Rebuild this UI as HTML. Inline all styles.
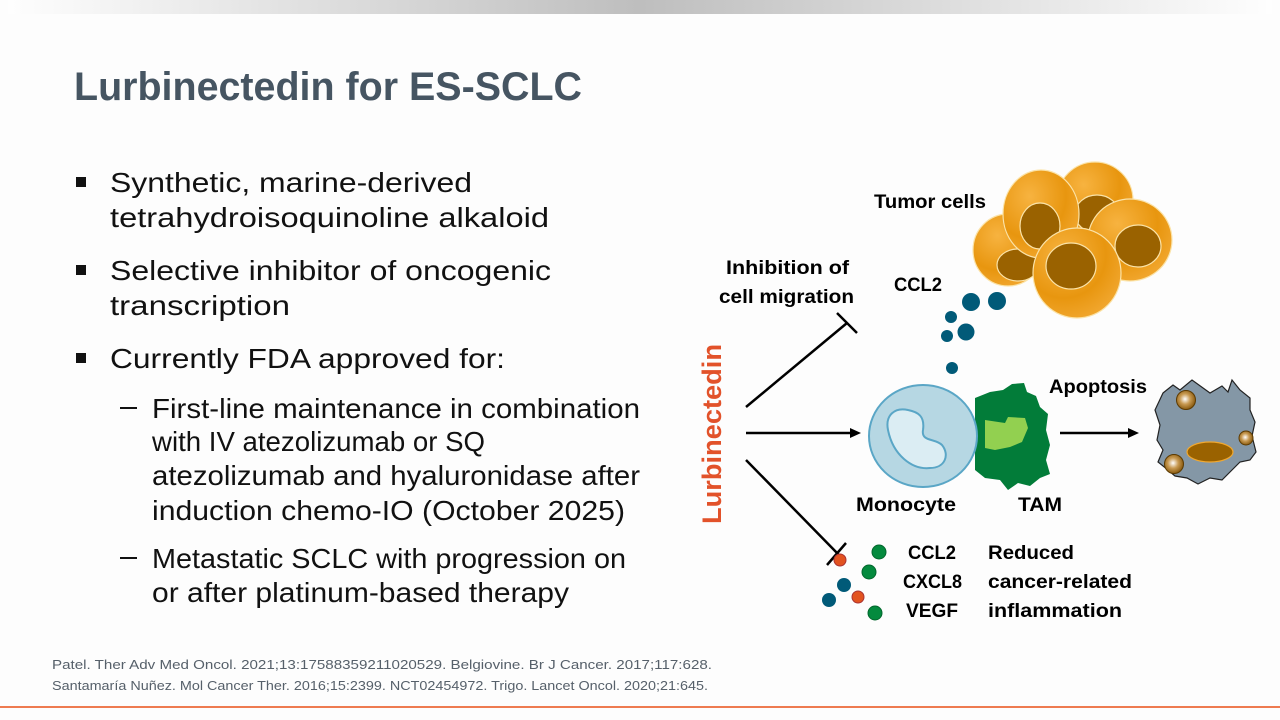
<!DOCTYPE html>
<html><head><meta charset="utf-8"><style>
html,body{margin:0;padding:0;background:#fdfdfd;}
svg{display:block;}
text{font-family:"Liberation Sans",sans-serif;}
</style></head><body>
<svg width="1280" height="720" viewBox="0 0 1280 720" xmlns="http://www.w3.org/2000/svg">
<defs>
<linearGradient id="tb" x1="0" x2="1" y1="0" y2="0">
<stop offset="0" stop-color="#fefefe"/><stop offset="0.5" stop-color="#bebebe"/><stop offset="1" stop-color="#fefefe"/>
</linearGradient>
<radialGradient id="cell" cx="0.35" cy="0.3" r="0.8">
<stop offset="0" stop-color="#f7b340"/><stop offset="0.6" stop-color="#e8960f"/><stop offset="1" stop-color="#f3aa35"/>
</radialGradient>
<radialGradient id="bead" cx="0.45" cy="0.45" r="0.55">
<stop offset="0" stop-color="#fff"/><stop offset="0.5" stop-color="#c89a52"/><stop offset="1" stop-color="#8a5b10"/>
</radialGradient>
</defs>
<rect width="1280" height="720" fill="#fdfdfd"/>
<rect x="8" y="0" width="1264" height="14" fill="url(#tb)"/>
<rect x="0" y="706" width="1280" height="2" fill="#ee7b50"/>

<text x="74" y="100" font-size="40" font-weight="bold" fill="#465562" textLength="508" lengthAdjust="spacingAndGlyphs">Lurbinectedin for ES-SCLC</text>

<g fill="#111" font-size="28">
<rect x="76" y="177" width="10" height="10"/>
<text x="110" y="192" textLength="362" lengthAdjust="spacingAndGlyphs">Synthetic, marine-derived</text>
<text x="110" y="227" textLength="439" lengthAdjust="spacingAndGlyphs">tetrahydroisoquinoline alkaloid</text>
<rect x="76" y="265" width="10" height="10"/>
<text x="110" y="280" textLength="441" lengthAdjust="spacingAndGlyphs">Selective inhibitor of oncogenic</text>
<text x="110" y="315" textLength="180" lengthAdjust="spacingAndGlyphs">transcription</text>
<rect x="76" y="353" width="10" height="10"/>
<text x="110" y="368" textLength="395" lengthAdjust="spacingAndGlyphs">Currently FDA approved for:</text>
<rect x="120" y="407" width="17" height="2"/>
<text x="152" y="418" textLength="488" lengthAdjust="spacingAndGlyphs">First-line maintenance in combination</text>
<text x="152" y="451" textLength="333" lengthAdjust="spacingAndGlyphs">with IV atezolizumab or SQ</text>
<text x="152" y="485" textLength="488" lengthAdjust="spacingAndGlyphs">atezolizumab and hyaluronidase after</text>
<text x="152" y="520" textLength="473" lengthAdjust="spacingAndGlyphs">induction chemo-IO (October 2025)</text>
<rect x="120" y="557" width="17" height="2"/>
<text x="152" y="568" textLength="474" lengthAdjust="spacingAndGlyphs">Metastatic SCLC with progression on</text>
<text x="152" y="602" textLength="417" lengthAdjust="spacingAndGlyphs">or after platinum-based therapy</text>
</g>

<g fill="#56606a" font-size="13">
<text x="52" y="669" textLength="660" lengthAdjust="spacingAndGlyphs">Patel. Ther Adv Med Oncol. 2021;13:17588359211020529. Belgiovine. Br J Cancer. 2017;117:628.</text>
<text x="52" y="690" textLength="656" lengthAdjust="spacingAndGlyphs">Santamaría Nuñez. Mol Cancer Ther. 2016;15:2399. NCT02454972. Trigo. Lancet Oncol. 2020;21:645.</text>
</g>

<!-- Tumor cells -->
<g stroke="#fbe3a8" stroke-width="1.2">
<ellipse cx="1095" cy="200" rx="38" ry="38" fill="url(#cell)"/>
<ellipse cx="1097" cy="214" rx="22" ry="19" fill="#9a6200"/>
<ellipse cx="1130" cy="240" rx="42" ry="41" fill="url(#cell)"/>
<ellipse cx="1138" cy="246" rx="23" ry="21" fill="#9a6200"/>
<ellipse cx="1008" cy="250" rx="35" ry="36" fill="url(#cell)"/>
<ellipse cx="1018" cy="265" rx="21" ry="16" fill="#9a6200"/>
<ellipse cx="1041" cy="214" rx="38" ry="44" fill="url(#cell)"/>
<ellipse cx="1040" cy="226" rx="20" ry="23" fill="#9a6200"/>
<ellipse cx="1077" cy="273" rx="44" ry="45" fill="url(#cell)"/>
<ellipse cx="1071" cy="266" rx="25" ry="23" fill="#9a6200"/>
</g>

<!-- connectors -->
<g stroke="#000" stroke-width="2.5" fill="none">
<line x1="746" y1="407" x2="847" y2="323"/>
<line x1="837" y1="313" x2="857" y2="333"/>
<line x1="746" y1="433" x2="852" y2="433"/>
<line x1="746" y1="460" x2="839" y2="555"/>
<line x1="827" y1="565" x2="846" y2="543"/>
<line x1="1060" y1="433" x2="1130" y2="433"/>
</g>
<polygon points="861,433 850,428 850,438" fill="#000"/>
<polygon points="1139,433 1128,428 1128,438" fill="#000"/>

<!-- TAM -->
<path d="M975,398 L990,392 L1003,390 L1012,384 L1024,383 L1027,392 L1036,396 L1040,407 L1048,414 L1046,430 L1050,445 L1046,460 L1050,474 L1040,478 L1030,486 L1018,483 L1008,490 L1000,480 L985,478 L975,470 Z" fill="#027c39"/>
<path d="M985,420 L1005,423 L1008,417 L1025,418 L1028,428 L1022,442 L1010,447 L995,450 L985,448 Z" fill="#92d050"/>
<!-- Monocyte -->
<ellipse cx="923" cy="436" rx="54" ry="51" fill="#b6d7e3" stroke="#5aa6c6" stroke-width="2"/>
<path d="M888,430 C885,415 895,407 908,410 C918,412 925,416 923,430 C921,442 935,438 942,445 C950,455 945,468 930,468 C912,470 893,455 888,430 Z" fill="#dbedf3" stroke="#5aa6c6" stroke-width="2"/>

<!-- Apoptotic cell -->
<path d="M1163,393 L1173,385 L1180,390 L1192,380 L1210,393 L1222,386 L1228,392 L1232,380 L1240,390 L1250,398 L1250,410 L1255,422 L1252,436 L1256,452 L1250,460 L1240,462 L1232,470 L1222,480 L1210,478 L1198,484 L1187,478 L1175,476 L1168,470 L1158,462 L1163,450 L1157,440 L1160,425 L1155,410 Z" fill="#8497a6" stroke="#222" stroke-width="1.2"/>
<ellipse cx="1210" cy="452" rx="23" ry="10" fill="#9a6200" stroke="#f0a830" stroke-width="1.2"/>
<circle cx="1186" cy="400" r="9.5" fill="url(#bead)" stroke="#5c3a00" stroke-width="1"/>
<circle cx="1246" cy="438" r="7" fill="url(#bead)" stroke="#5c3a00" stroke-width="1"/>
<circle cx="1174" cy="464" r="9.5" fill="url(#bead)" stroke="#5c3a00" stroke-width="1"/>

<!-- CCL2 dots -->
<g fill="#015a78">
<circle cx="971" cy="302" r="9"/><circle cx="997" cy="301" r="9"/>
<circle cx="951" cy="317" r="6"/><circle cx="966" cy="332" r="8.5"/>
<circle cx="947" cy="336" r="6"/><circle cx="952" cy="368" r="6"/>
</g>
<!-- bottom dots -->
<circle cx="879" cy="552" r="7" fill="#048a3e" stroke="#02662c"/>
<circle cx="840" cy="560" r="6" fill="#e25320" stroke="#a33"/>
<circle cx="869" cy="572" r="7" fill="#048a3e" stroke="#02662c"/>
<circle cx="844" cy="585" r="7" fill="#015a78"/>
<circle cx="829" cy="600" r="7" fill="#015a78"/>
<circle cx="858" cy="597" r="6" fill="#e25320" stroke="#a33"/>
<circle cx="875" cy="613" r="7" fill="#048a3e" stroke="#02662c"/>

<!-- diagram labels -->
<g font-size="19" font-weight="bold" fill="#000">
<text x="874" y="208" textLength="112" lengthAdjust="spacingAndGlyphs">Tumor cells</text>
<text x="726" y="274" textLength="123" lengthAdjust="spacingAndGlyphs">Inhibition of</text>
<text x="719" y="303" textLength="135" lengthAdjust="spacingAndGlyphs">cell migration</text>
<text x="894" y="291" textLength="48" lengthAdjust="spacingAndGlyphs">CCL2</text>
<text x="1049" y="393" textLength="98" lengthAdjust="spacingAndGlyphs">Apoptosis</text>
<text x="856" y="511" textLength="100" lengthAdjust="spacingAndGlyphs">Monocyte</text>
<text x="1018" y="511" textLength="44" lengthAdjust="spacingAndGlyphs">TAM</text>
<text x="908" y="559" textLength="48" lengthAdjust="spacingAndGlyphs">CCL2</text>
<text x="903" y="588" textLength="59" lengthAdjust="spacingAndGlyphs">CXCL8</text>
<text x="906" y="617" textLength="52" lengthAdjust="spacingAndGlyphs">VEGF</text>
<text x="988" y="559" textLength="86" lengthAdjust="spacingAndGlyphs">Reduced</text>
<text x="988" y="588" textLength="144" lengthAdjust="spacingAndGlyphs">cancer-related</text>
<text x="988" y="617" textLength="134" lengthAdjust="spacingAndGlyphs">inflammation</text>
</g>
<text transform="translate(721,524) rotate(-90)" font-size="27" font-weight="bold" fill="#e2522a" textLength="180" lengthAdjust="spacingAndGlyphs">Lurbinectedin</text>
</svg>
</body></html>
